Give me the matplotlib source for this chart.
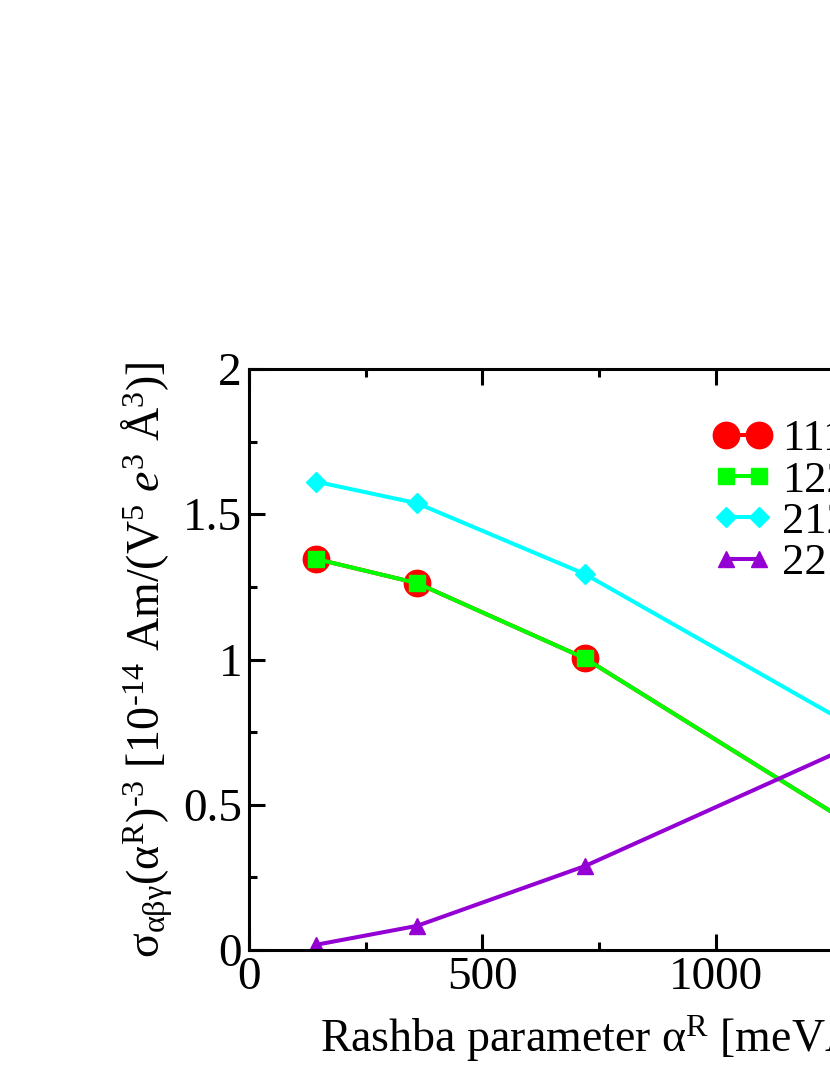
import matplotlib
matplotlib.use("Agg")
import matplotlib.pyplot as plt
from matplotlib.ticker import MultipleLocator

plt.rcParams['font.family'] = ['Liberation Serif', 'DejaVu Serif']
plt.rcParams['mathtext.fontset'] = 'custom'
plt.rcParams['mathtext.rm'] = 'Liberation Serif'
plt.rcParams['mathtext.it'] = 'Liberation Serif:italic'
plt.rcParams['mathtext.default'] = 'regular'

# Rashba parameter [meV A]
alpha_r = [144, 360, 720, 1440]

# sigma_abg * (alpha^R)^-3 in 1e-14 units
s111 = [1.346, 1.263, 1.004, 0.284]
s122 = [1.346, 1.263, 1.004, 0.284]
s212 = [1.612, 1.538, 1.294, 0.637]
s221 = [0.018, 0.083, 0.289, 0.810]

labels = ["111", "122", "212", "221"]

fig = plt.figure(figsize=(8.3, 10.75), dpi=100)
# axes run past the right edge of the picture, like the reference crop
ax = fig.add_axes([249 / 830, 125 / 1075, 700 / 830, 581 / 1075])

lw = 2.9
ax.plot(alpha_r, s111, color='#ff0000', marker='o', ms=19, lw=lw, label=labels[0])
ax.plot(alpha_r, s122, color='#00ff00', marker='s', ms=11, lw=lw, label=labels[1])
ax.plot(alpha_r, s212, color='#00ffff', marker='D', ms=10, lw=lw, label=labels[2])
ax.plot(alpha_r, s221, color='#9400d3', marker='^', ms=12, lw=lw, label=labels[3])

ax.set_xlim(0, 1500)
ax.set_ylim(0, 2)
ax.xaxis.set_major_locator(MultipleLocator(500))
ax.xaxis.set_minor_locator(MultipleLocator(250))
ax.yaxis.set_major_locator(MultipleLocator(0.5))
ax.yaxis.set_minor_locator(MultipleLocator(0.25))
ax.set_yticks([0, 0.5, 1, 1.5, 2])
ax.set_yticklabels(["0", "0.5", "1", "1.5", "2"])

for s in ax.spines.values():
    s.set_linewidth(2.2)
ax.tick_params(which='both', direction='in', top=True, right=True, width=2.2, labelsize=34)
ax.tick_params(which='major', length=11.5)
ax.tick_params(which='minor', length=6)
ax.tick_params(axis='x', pad=5)
ax.tick_params(axis='y', pad=5)

ax.set_ylabel('$\u03c3_{\u03b1\u03b2\u03b3}(\u03b1^{R})^{\u2010 3}$ [10$^{\u2010 14}$ Am/(V$^{5}$ $\\mathit{e}^{3}$ Å$^{3}$)]',
              fontsize=33, labelpad=6)
ax.set_xlabel('Rashba parameter $\u03b1^{R}$ [meVÅ]', fontsize=33, ha='left')
ax.xaxis.set_label_coords((320 - 249) / 700, -0.105)

ax.legend(loc='upper left', bbox_to_anchor=(713 / 830, 1 - 419 / 1075),
          bbox_transform=fig.transFigure, frameon=False, fontsize=32,
          numpoints=2, handlelength=1.34, handletextpad=0.22,
          labelspacing=0.03, borderpad=0, borderaxespad=0)

fig.savefig('out.png', dpi=100)
